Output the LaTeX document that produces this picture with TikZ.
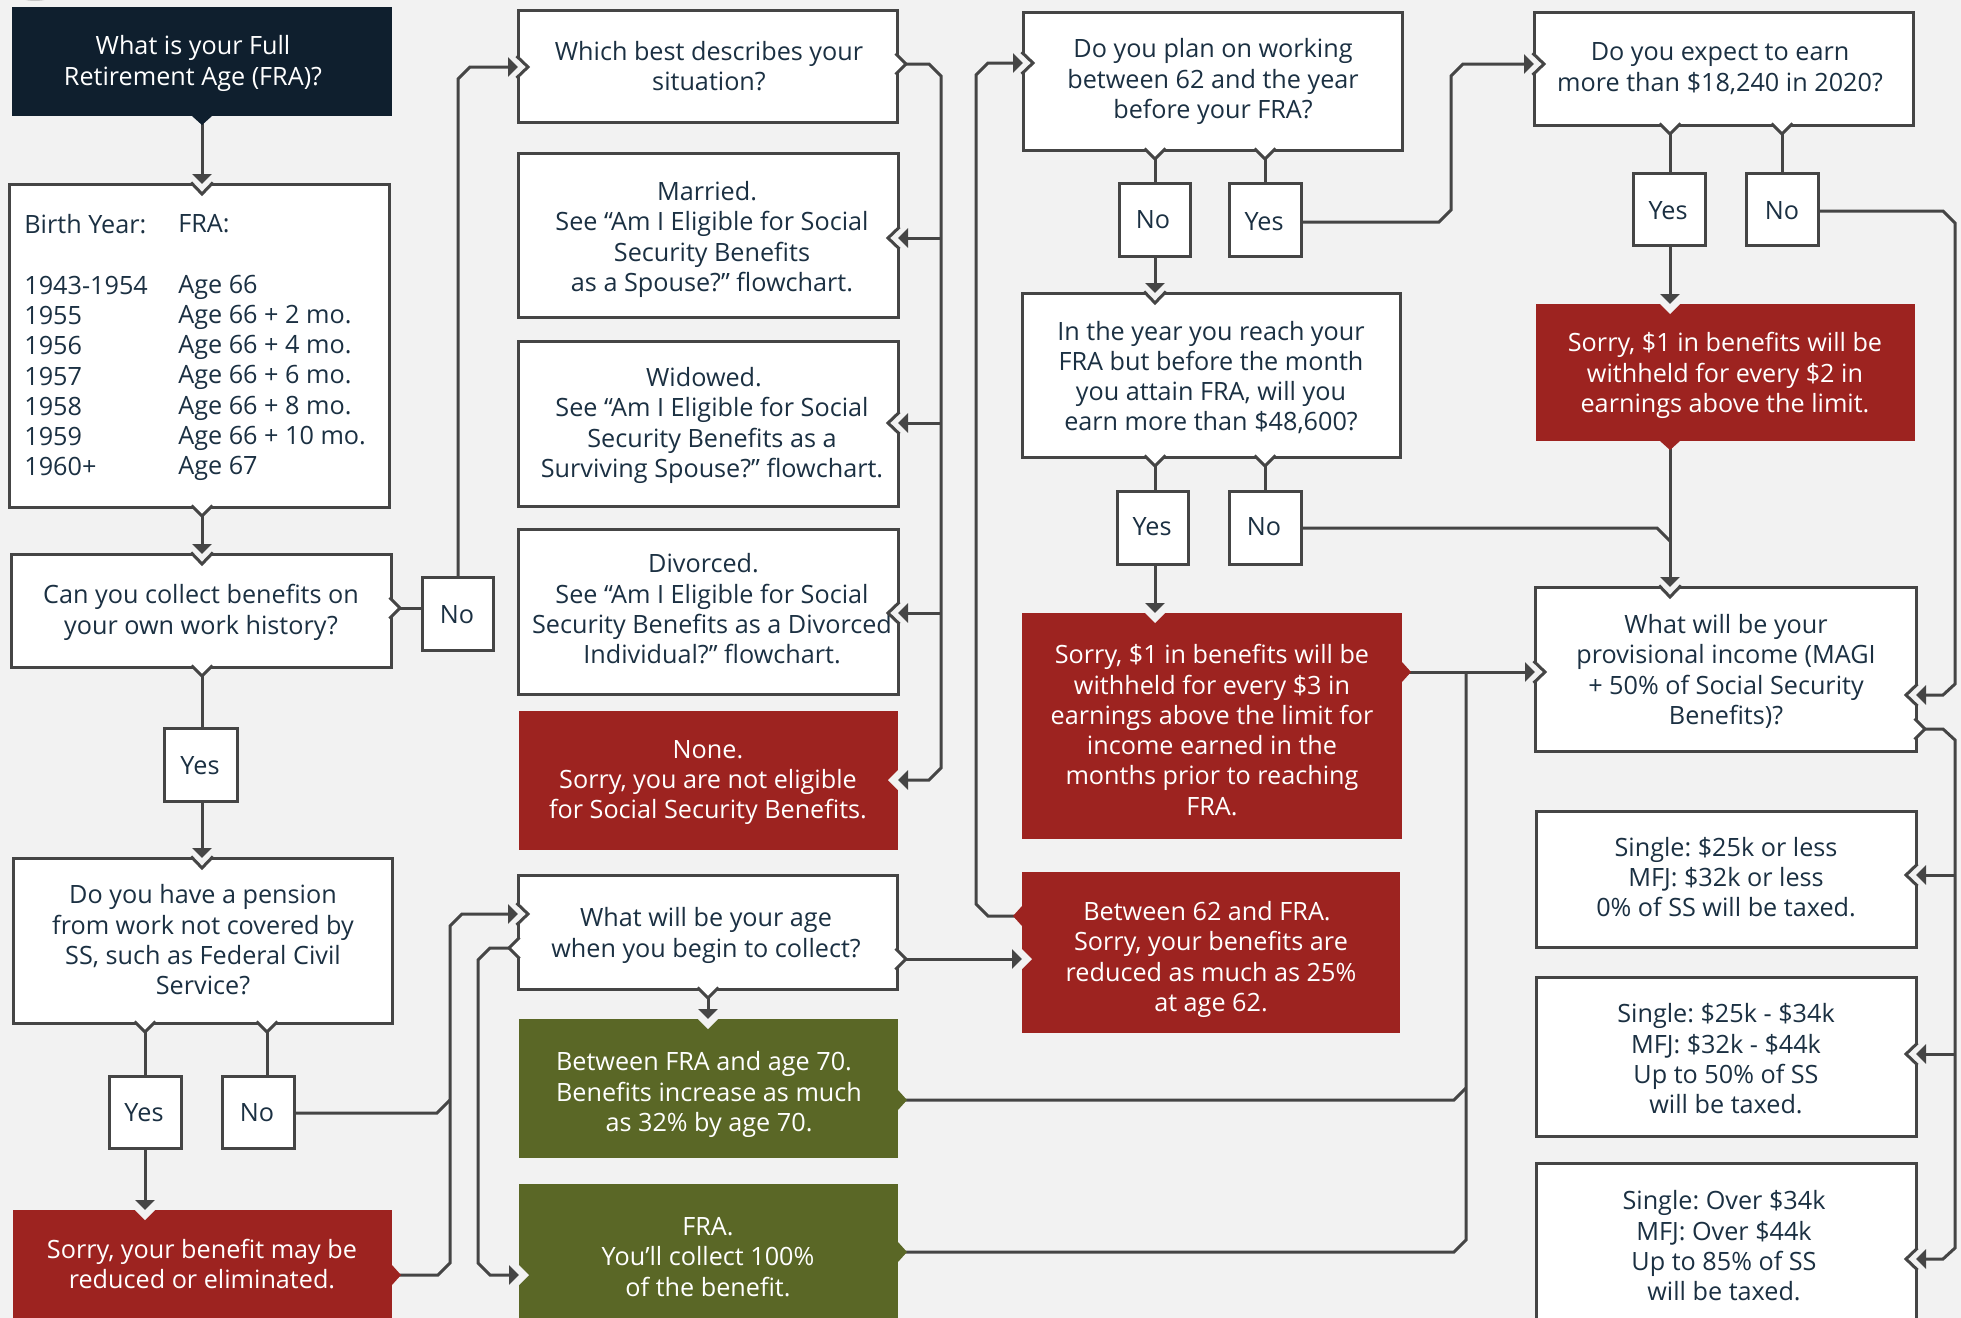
\documentclass[tikz,border=0pt]{standalone}
\usepackage{fontspec}
\setmainfont{Open Sans}
\usetikzlibrary{fit,arrows.meta}
\definecolor{pagebg}{HTML}{F2F2F2}
\definecolor{edge}{HTML}{454545}
\definecolor{ink}{HTML}{1B3042}
\definecolor{navy}{HTML}{0F1F2E}
\definecolor{brick}{HTML}{9D2320}
\definecolor{moss}{HTML}{5A6726}
\tikzset{
  wbox/.style={draw=edge,fill=white,line width=1.5pt,inner sep=0pt,outer sep=0pt},
  cbox/.style={fill=#1,inner sep=0pt,outer sep=0pt},
  lab/.style={align=center,inner sep=0pt,font=\fontsize{12.6}{15.15}\selectfont\frenchspacing},
  conn/.style={draw=edge,line width=1.5pt,line join=miter},
  arr/.style={conn,-{Triangle[length=5pt,width=9.5pt]}},
}
\newcommand\bxw[8]{\node[wbox,fit={(#2,#3)(#4,#5)}] (#1) {};
  \node[lab,text=ink] (#1-t) at (#6,#7) {#8};}
\newcommand\bxc[9]{\node[cbox=#1,fit={(#3,#4)(#5,#6)}] (#2) {};
  \node[lab,text=white] (#2-t) at (#7,#8) {#9};}
\newcommand\notchline[2]{\begin{scope}[shift={(#1)},rotate=#2]
  \fill[pagebg] (-2,-10)--(0,-10)--(10,0)--(0,10)--(-2,10)--cycle;
  \draw[edge,line width=1.5pt] (-1.5,-11)--(10,0)--(-1.5,11);\end{scope}}
\newcommand\notchfill[2]{\begin{scope}[shift={(#1)},rotate=#2]
  \fill[pagebg] (-1,-10)--(0,-10)--(10,0)--(0,10)--(-1,10)--cycle;\end{scope}}
\newcommand\bumpline[2]{\begin{scope}[shift={(#1)},rotate=#2]
  \fill[white] (-2,-9)--(0,-9)--(9,0)--(0,9)--(-2,9)--cycle;
  \draw[edge,line width=1.5pt] (-1.5,-10.5)--(9,0)--(-1.5,10.5);\end{scope}}
\newcommand\bumpfill[3]{\begin{scope}[shift={(#2)},rotate=#3]
  \fill[#1] (-1,-10)--(0,-10)--(9,0)--(0,10)--(-1,10)--cycle;\end{scope}}
\begin{document}
\begin{tikzpicture}[x=0.5pt,y=-0.5pt]
\useasboundingbox (0,0) rectangle (1961,1318);
\clip (0,0) rectangle (1961,1318);
\fill[pagebg] (0,0) rectangle (1961,1318);
\fill[gray!45] (35,-5) ellipse [x radius=17,y radius=6];
% left column
\bxc{navy}{a}{12}{7}{392}{116}{193}{63.5}{What is your Full\\Retirement Age (FRA)?}
\bxw{birth}{9}{184}{389}{507}{25}{224}{}
\node[lab,text=ink,align=left,anchor=north west] (birth-l) at (24,214) {Birth Year:\\[15.15pt]1943-1954\\1955\\1956\\1957\\1958\\1959\\1960+};
\node[lab,text=ink,align=left,anchor=north west] (birth-r) at (178,214) {FRA:\\[15.15pt]Age 66\\Age 66 + 2 mo.\\Age 66 + 4 mo.\\Age 66 + 6 mo.\\Age 66 + 8 mo.\\Age 66 + 10 mo.\\Age 67};
\bxw{can}{11}{554}{391}{667}{201}{612.5}{Can you collect benefits on\\your own work history?}
\bxw{noA}{422}{577}{493}{650}{457}{615}{No}
\bxw{yesA}{164}{728}{237}{801}{200}{766}{Yes}
\bxw{pen}{13}{858}{392}{1023}{203}{940}{Do you have a pension\\from work not covered by\\SS, such as Federal Civil\\Service?}
\bxw{yes2}{109}{1076}{181}{1148}{144}{1113}{Yes}
\bxw{no2}{222}{1076}{294}{1148}{257}{1113}{No}
\bxc{brick}{sorry}{13}{1210}{392}{1340}{202}{1264}{Sorry, your benefit may be\\reduced or eliminated.}
% second column
\bxw{which}{518}{10}{897}{122}{709}{66}{Which best describes your\\situation?}
\bxw{married}{518}{153}{898}{317}{712}{239.5}{Married.\hspace*{5pt}\\See “Am I Eligible for Social\\Security Benefits\\as a Spouse?” flowchart.}
\bxw{widowed}{518}{341}{898}{506}{712}{425.5}{Widowed.\hspace*{8pt}\\See “Am I Eligible for Social\\Security Benefits as a\\Surviving Spouse?” flowchart.}
\bxw{divorced}{518}{529}{898}{694}{712}{609}{Divorced.\hspace*{8.5pt}\\See “Am I Eligible for Social\\Security Benefits as a Divorced\\Individual?” flowchart.}
\bxc{brick}{none}{519}{711}{898}{850}{708}{782.5}{None.\\Sorry, you are not eligible\\for Social Security Benefits.}
\bxw{age}{518}{875}{897}{989}{706}{935.5}{What will be your age\\when you begin to collect?}
\bxc{moss}{green1}{519}{1019}{898}{1158}{709}{1094.5}{Between FRA and age 70.\hspace*{5pt}\\Benefits increase as much\\as 32\% by age 70.}
\bxc{moss}{fra}{519}{1184}{898}{1340}{708}{1257}{FRA.\\You’ll collect 100\%\\of the benefit.}
% third column
\bxw{plan}{1023}{12}{1402}{150}{1213}{81.5}{Do you plan on working\\between 62 and the year\\before your FRA?}
\bxw{noP}{1119}{183}{1190}{256}{1153}{220}{No}
\bxw{yesP}{1229}{183}{1301}{256}{1264}{222}{Yes}
\bxw{inyear}{1022}{293}{1400}{457}{1211}{377.5}{In the year you reach your\\FRA but before the month\\you attain FRA, will you\\earn more than \$48,600?}
\bxw{yesI}{1117}{491}{1188}{564}{1152}{527}{Yes}
\bxw{noI}{1229}{491}{1301}{564}{1264}{527}{No}
\bxc{brick}{sorry3}{1022}{613}{1402}{839}{1212}{730}{Sorry, \$1 in benefits will be\\withheld for every \$3 in\\earnings above the limit for\\income earned in the\\months prior to reaching\\FRA.}
\bxc{brick}{between}{1022}{872}{1400}{1033}{1211}{959.5}{Between 62 and FRA.\hspace*{4pt}\\Sorry, your benefits are\\reduced as much as 25\%\\at age 62.}
% fourth column
\bxw{expect}{1534}{12}{1913}{125}{1720}{68.5}{Do you expect to earn\\more than \$18,240 in 2020?}
\bxw{yesE}{1633}{173}{1705}{245}{1668}{211}{Yes}
\bxw{noE}{1746}{173}{1818}{245}{1782}{211}{No}
\bxc{brick}{sorry2}{1536}{304}{1915}{441}{1725}{375.5}{Sorry, \$1 in benefits will be\\withheld for every \$2 in\\earnings above the limit.}
\bxw{prov}{1535}{587}{1916}{751}{1726}{671.5}{What will be your\\provisional income (MAGI\\+ 50\% of Social Security\\Benefits)?}
\bxw{sa}{1536}{811}{1916}{947}{1726}{877}{Single: \$25k or less\\MFJ: \$32k or less\\0\% of SS will be taxed.}
\bxw{sb}{1536}{977}{1916}{1136}{1726}{1059}{Single: \$25k - \$34k\\MFJ: \$32k - \$44k\\Up to 50\% of SS\\will be taxed.}
\bxw{sc}{1536}{1163}{1916}{1340}{1724}{1246}{Single: Over \$34k\\MFJ: Over \$44k\\Up to 85\% of SS\\will be taxed.}
% notches (where an arrow comes in)
\notchline{202,0 |- birth.north}{-90}
\notchline{202,0 |- can.north}{-90}
\notchline{202,0 |- pen.north}{-90}
\notchfill{145,0 |- sorry.north}{-90}
\notchline{which.west |- 0,67}{0}
\notchline{married.east |- 0,238}{180}
\notchline{widowed.east |- 0,423}{180}
\notchline{divorced.east |- 0,613}{180}
\notchfill{none.east |- 0,780}{180}
\notchline{age.west |- 0,914}{0}
\notchfill{708,0 |- green1.north}{-90}
\notchfill{fra.west |- 0,1275}{0}
\notchline{plan.west |- 0,63}{0}
\notchline{1155,0 |- inyear.north}{-90}
\notchfill{1155,0 |- sorry3.north}{-90}
\notchfill{between.west |- 0,959}{0}
\notchline{expect.west |- 0,64}{0}
\notchfill{1670,0 |- sorry2.north}{-90}
\notchline{1670,0 |- prov.north}{-90}
\notchline{prov.west |- 0,672}{0}
\notchline{prov.east |- 0,695}{180}
\notchline{sa.east |- 0,875}{180}
\notchline{sb.east |- 0,1054}{180}
\notchline{sc.east |- 0,1259}{180}
% connectors
\draw[arr] (202,0 |- a.south) -- (202,0 |- birth.north);
\draw[arr] (202,0 |- birth.south) -- (202,0 |- can.north);
\draw[conn] (202,0 |- can.south) -- (202,0 |- yesA.north);
\draw[arr] (202,0 |- yesA.south) -- (202,0 |- pen.north);
\draw[conn] (can.east |- 0,608) -- (noA.west |- 0,608);
\draw[arr] (458,0 |- noA.north) -- (458,79) -- (470,67) -- (which.west |- 0,67);
\draw[conn] (145,0 |- pen.south) -- (145,0 |- yes2.north);
\draw[conn] (267,0 |- pen.south) -- (267,0 |- no2.north);
\draw[arr] (145,0 |- yes2.south) -- (145,0 |- sorry.north);
\draw[conn] (no2.east |- 0,1113) -- (437,1113) -- (450,1100);
\draw[arr] (sorry.east |- 0,1275) -- (438,1275) -- (450,1263) -- (450,926) -- (462,914) -- (age.west |- 0,914);
\draw[arr] (age.west |- 0,948) -- (490,948) -- (478,960) -- (478,1263) -- (490,1275) -- (fra.west |- 0,1275);
\draw[arr] (708,0 |- age.south) -- (708,0 |- green1.north);
\draw[arr] (age.east |- 0,959) -- (between.west |- 0,959);
\draw[arr] (which.east |- 0,64) -- (929,64) -- (941,76) -- (941,768) -- (929,780) -- (none.east |- 0,780);
\draw[arr] (941,238) -- (married.east |- 0,238);
\draw[arr] (941,423) -- (widowed.east |- 0,423);
\draw[arr] (941,613) -- (divorced.east |- 0,613);
\draw[arr] (between.west |- 0,916) -- (988,916) -- (976,904) -- (976,75) -- (988,63) -- (plan.west |- 0,63);
\draw[conn] (1155,0 |- plan.south) -- (1155,0 |- noP.north);
\draw[conn] (1265,0 |- plan.south) -- (1265,0 |- yesP.north);
\draw[arr] (1155,0 |- noP.south) -- (1155,0 |- inyear.north);
\draw[arr] (yesP.east |- 0,222) -- (1439,222) -- (1451,210) -- (1451,76) -- (1463,64) -- (expect.west |- 0,64);
\draw[conn] (1155,0 |- inyear.south) -- (1155,0 |- yesI.north);
\draw[conn] (1265,0 |- inyear.south) -- (1265,0 |- noI.north);
\draw[arr] (1155,0 |- yesI.south) -- (1155,0 |- sorry3.north);
\draw[conn] (noI.east |- 0,528) -- (1657,528) -- (1670,541);
\draw[arr] (sorry3.east |- 0,672) -- (prov.west |- 0,672);
\draw[conn] (1466,672) -- (1466,1240) -- (1454,1252) -- (fra.east |- 0,1252);
\draw[conn] (1466,1088) -- (1454,1100) -- (green1.east |- 0,1100);
\draw[conn] (1670,0 |- expect.south) -- (1670,0 |- yesE.north);
\draw[conn] (1782,0 |- expect.south) -- (1782,0 |- noE.north);
\draw[arr] (1670,0 |- yesE.south) -- (1670,0 |- sorry2.north);
\draw[arr] (1670,0 |- sorry2.south) -- (1670,0 |- prov.north);
\draw[arr] (noE.east |- 0,211) -- (1943,211) -- (1955,223) -- (1955,684) -- (1943,695) -- (prov.east |- 0,695);
\draw[arr] (prov.east |- 0,729) -- (1943,729) -- (1955,740) -- (1955,1248) -- (1943,1259) -- (sc.east |- 0,1259);
\draw[arr] (1955,875) -- (sa.east |- 0,875);
\draw[arr] (1955,1054) -- (sb.east |- 0,1054);
% bumps (where a connector leaves)
\bumpfill{navy}{202,0 |- a.south}{-90}
\bumpline{202,0 |- birth.south}{-90}
\bumpline{202,0 |- can.south}{-90}
\bumpline{can.east |- 0,608}{0}
\bumpline{145,0 |- pen.south}{-90}
\bumpline{267,0 |- pen.south}{-90}
\bumpfill{brick}{sorry.east |- 0,1275}{0}
\bumpline{which.east |- 0,64}{0}
\bumpline{age.west |- 0,948}{180}
\bumpline{708,0 |- age.south}{-90}
\bumpline{age.east |- 0,959}{0}
\bumpfill{moss}{green1.east |- 0,1100}{0}
\bumpfill{moss}{fra.east |- 0,1252}{0}
\bumpline{1155,0 |- plan.south}{-90}
\bumpline{1265,0 |- plan.south}{-90}
\bumpline{1155,0 |- inyear.south}{-90}
\bumpline{1265,0 |- inyear.south}{-90}
\bumpfill{brick}{sorry3.east |- 0,672}{0}
\bumpfill{brick}{between.west |- 0,916}{180}
\bumpline{1670,0 |- expect.south}{-90}
\bumpline{1782,0 |- expect.south}{-90}
\bumpfill{brick}{1670,0 |- sorry2.south}{-90}
\bumpline{prov.east |- 0,729}{0}
\end{tikzpicture}
\end{document}
